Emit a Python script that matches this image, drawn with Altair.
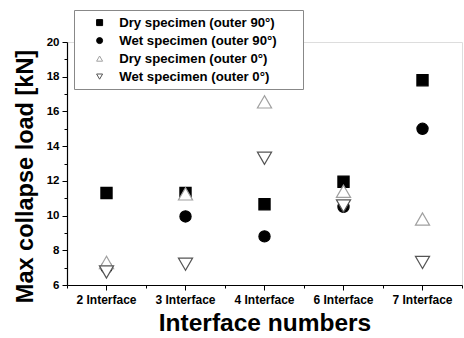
import altair as alt
import pandas as pd

categories = ["2 Interface", "3 Interface", "4 Interface", "6 Interface", "7 Interface"]
series_names = [
    "Dry specimen (outer 90°)",
    "Wet specimen (outer 90°)",
    "Dry specimen (outer 0°)",
    "Wet specimen (outer 0°)",
]
dry_90 = [11.3, 11.3, 10.65, 11.95, 17.8]
wet_90 = [7.0, 9.95, 8.8, 10.5, 15.0]
dry_0 = [7.3, 11.25, 16.55, 11.4, 9.8]
wet_0 = [6.75, 7.2, 13.3, 10.55, 7.3]
y_major = [6, 8, 10, 12, 14, 16, 18, 20]
y_minor = [7, 9, 11, 13, 15, 17, 19]

rows = []
for k, (name, vals) in enumerate(zip(series_names, [dry_90, wet_90, dry_0, wet_0])):
    for c, v in zip(categories, vals):
        rows.append({"cat": c, "load": v, "series": name, "order": k})
df = pd.DataFrame(rows)

FONT = "Liberation Sans"

x_scale = alt.Scale(type="band", domain=categories, paddingInner=0, paddingOuter=0)
y_scale = alt.Scale(domain=[6, 20], nice=False, zero=False)

sdom = series_names
shape_scale = alt.Scale(domain=sdom, range=["square", "circle", "triangle-up", "triangle-down"])
fill_scale = alt.Scale(domain=sdom, range=["#000000", "#000000", "#ffffff", "#ffffff"])
stroke_scale = alt.Scale(domain=sdom, range=["#000000", "#000000", "#a0a0a0", "#555555"])

legend = alt.Legend(
    title="I",
    titleOrient="right",
    titleColor="#ffffff",
    titleFontSize=8,
    titlePadding=17,
    orient="none",
    legendX=7,
    legendY=-32,
    strokeColor="#888888",
    fillColor="#ffffff",
    padding=6,
    symbolOffset=13,
    labelOffset=13,
    labelFont=FONT,
    labelFontSize=13.2,
    labelFontWeight="bold",
    labelColor="#000000",
    symbolSize=36,
    symbolStrokeWidth=1,
    rowPadding=4,
    labelLimit=400,
)

x_axis = alt.Axis(
    title="Interface numbers",
    titleFont=FONT,
    titleFontSize=24.5,
    titleFontWeight="bold",
    titleColor="#000000",
    titlePadding=6,
    labelFont=FONT,
    labelFontSize=12,
    labelFontWeight="bold",
    labelColor="#000000",
    labelAngle=0,
    labelPadding=4,
    tickSize=5,
    tickColor="#000000",
    domainColor="#000000",
    domainWidth=1.2,
    grid=False,
)
y_axis = alt.Axis(
    title="Max collapse load [kN]",
    values=y_major,
    titleFont=FONT,
    titleFontSize=23.5,
    titleFontWeight="bold",
    titleColor="#000000",
    titlePadding=9,
    titleY=134,
    labelFont=FONT,
    labelFontSize=11.5,
    labelFontWeight="bold",
    labelColor="#000000",
    labelPadding=3,
    tickSize=5,
    tickColor="#000000",
    domainColor="#000000",
    domainWidth=1.2,
    grid=False,
)


def series_layer(names, size, with_axes):
    sub = df[df["series"].isin(names)]
    return alt.Chart(sub).mark_point(filled=False, strokeWidth=1.2, opacity=1, size=size).encode(
        x=alt.X("cat:N", scale=x_scale, sort=categories, axis=x_axis if with_axes else None),
        y=alt.Y("load:Q", scale=y_scale, axis=y_axis if with_axes else None),
        shape=alt.Shape("series:N", scale=shape_scale, legend=legend),
        fill=alt.Fill("series:N", scale=fill_scale, legend=legend),
        stroke=alt.Stroke("series:N", scale=stroke_scale, legend=legend),
        order=alt.Order("order:Q"),
    )


solid = series_layer(series_names[:2], 125, True)
hollow = series_layer(series_names[2:], 200, False)

minor = alt.Chart(df).mark_point(opacity=0).encode(
    x=alt.X(
        "cat:N",
        scale=x_scale,
        sort=categories,
        axis=alt.Axis(
            orient="bottom",
            title=None,
            labels=False,
            domain=False,
            grid=False,
            tickBand="extent",
            tickSize=3,
            tickColor="#000000",
        ),
    ),
    y=alt.Y(
        "load:Q",
        scale=y_scale,
        axis=alt.Axis(
            orient="left",
            title=None,
            labels=False,
            domain=False,
            grid=False,
            values=y_minor,
            tickSize=3,
            tickColor="#000000",
        ),
    ),
)

chart = (
    alt.layer(solid, hollow, minor)
    .resolve_axis(x="independent", y="independent")
    .properties(
        width=395,
        height=243,
        autosize=alt.AutoSizeParams(type="none"),
        padding={"left": 67, "top": 42, "right": 2, "bottom": 53},
    )
    .configure_view(stroke=None)
    .configure(background="#ffffff")
)

chart.save("out.html", embed_options={"renderer": "svg", "actions": False})
